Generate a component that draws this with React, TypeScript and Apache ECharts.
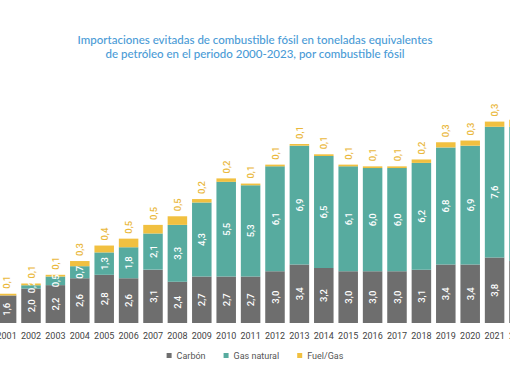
import React, { useEffect, useRef } from "react";
import * as echarts from "echarts";

const years = ["2000","2001","2002","2003","2004","2005","2006","2007","2008","2009","2010","2011","2012","2013","2014","2015","2016","2017","2018","2019","2020","2021","2022","2023"];
const carbon = [1.5,1.6,2.0,2.2,2.6,2.8,2.6,3.1,2.4,2.7,2.7,2.7,3.0,3.4,3.2,3.0,3.0,3.0,3.1,3.4,3.4,3.8,3.6,3.5];
const gasNatural = [null,null,0.2,0.5,0.7,1.3,1.8,2.1,3.3,4.3,5.5,5.3,6.1,6.9,6.5,6.1,6.0,6.0,6.2,6.8,6.9,7.6,7.8,7.9];
const fuelGas = [0.1,0.1,0.1,0.1,0.3,0.4,0.5,0.5,0.5,0.2,0.2,0.1,0.1,0.1,0.1,0.1,0.1,0.1,0.2,0.3,0.3,0.3,0.4,0.3];

const titleLine1 = "Importaciones evitadas de combustible fósil en toneladas equivalentes";
const titleLine2 = "de petróleo en el periodo 2000-2023, por combustible fósil";

const FONT = "Roboto, sans-serif";
const fmt = (v: number) => v.toFixed(1).replace(".", ",");

export default function App() {
  const ref = useRef<HTMLDivElement>(null);
  useEffect(() => {
    if (!ref.current) return;
    const chart = echarts.init(ref.current, null, { renderer: "svg" });
    const insideLabel = {
      show: true,
      position: "inside" as const,
      rotate: 90,
      color: "#ffffff",
      fontFamily: FONT,
      fontSize: 9.5,
      fontWeight: 500 as any,
      formatter: (p: any) => (p.value == null ? "" : fmt(p.value)),
    };
    const titleStyle = {
      fontFamily: "Lato, 'Open Sans', sans-serif",
      fontSize: 11.5,
      fontWeight: 500 as any,
      fill: "#4a9bd6",
      textAlign: "center" as const,
      textVerticalAlign: "middle" as const,
    };
    chart.setOption({
      animation: false,
      backgroundColor: "#ffffff",
      graphic: [
        { type: "text", x: 315, y: 39.5, style: { ...titleStyle, text: titleLine1 } },
        { type: "text", x: 315, y: 53, style: { ...titleStyle, text: titleLine2 } },
      ],
      legend: {
        bottom: 17,
        left: "center",
        icon: "rect",
        itemWidth: 5,
        itemHeight: 5,
        itemGap: 18,
        textStyle: { fontFamily: FONT, fontSize: 9, color: "#555" },
        data: ["Carbón", "Gas natural", "Fuel/Gas"],
      },
      grid: { left: 30, width: 585.6, top: 82, bottom: 59 },
      xAxis: {
        type: "category",
        data: years,
        axisLine: { show: false },
        axisTick: { show: false },
        axisLabel: { fontFamily: FONT, fontSize: 9, color: "#444", margin: 8, interval: 0 },
      },
      yAxis: { type: "value", min: 0, max: 14, show: false, splitLine: { show: false } },
      series: [
        {
          name: "Carbón",
          type: "bar",
          stack: "t",
          barCategoryGap: "20%",
          data: carbon,
          itemStyle: { color: "#6e6e6e" },
          label: insideLabel,
        },
        {
          name: "Gas natural",
          type: "bar",
          stack: "t",
          data: gasNatural,
          itemStyle: { color: "#57ab9f" },
          label: insideLabel,
        },
        {
          name: "Fuel/Gas",
          type: "bar",
          stack: "t",
          data: fuelGas,
          itemStyle: { color: "#f1c040" },
          label: {
            show: true,
            position: "top",
            rotate: 90,
            align: "left",
            verticalAlign: "middle",
            distance: 5,
            color: "#eab83c",
            fontFamily: FONT,
            fontSize: 9.5,
            fontWeight: 500 as any,
            formatter: (p: any) => fmt(p.value),
          },
        },
      ],
    });
    return () => chart.dispose();
  }, []);
  return (
    <div style={{ position: "fixed", left: 0, top: 0, width: 510, height: 382, overflow: "hidden", background: "#fff" }}>
      <div ref={ref} style={{ position: "absolute", left: -60, top: 0, width: 630, height: 382 }} />
    </div>
  );
}
